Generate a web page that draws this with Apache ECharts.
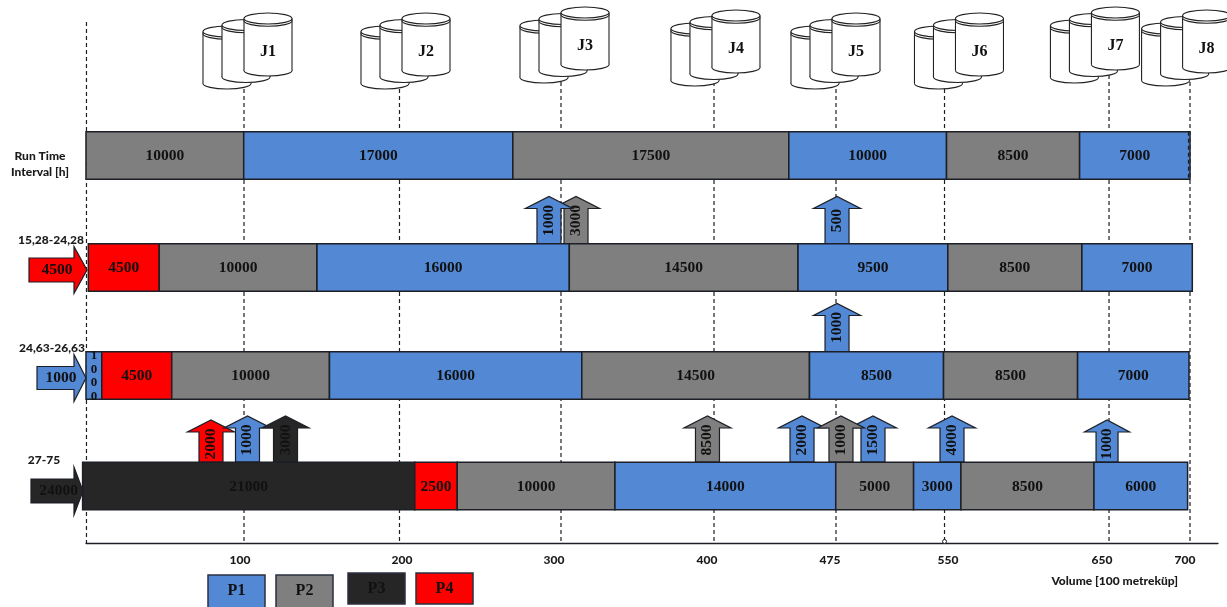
<!DOCTYPE html>
<html><head><meta charset="utf-8"><style>html,body{margin:0;padding:0;background:#fff}#c{width:1227px;height:607px}</style>
<script src="https://cdn.jsdelivr.net/npm/echarts@6/dist/echarts.min.js"></script></head>
<body><div id="c"></div>
<script>
// ---- data ----
const rowNames = ['Run Time Interval [h]', '15,28-24,28', '24,63-26,63', '27-75'];
const row1Values = [10000, 17000, 17500, 10000, 8500, 7000];
const row1Products = ['P2', 'P1', 'P2', 'P1', 'P2', 'P1'];
const row2Values = [4500, 10000, 16000, 14500, 9500, 8500, 7000];
const row2Products = ['P4', 'P2', 'P1', 'P2', 'P1', 'P2', 'P1'];
const row3Values = [1000, 4500, 10000, 16000, 14500, 8500, 8500, 7000];
const row3Products = ['P1', 'P4', 'P2', 'P1', 'P2', 'P1', 'P2', 'P1'];
const row4Values = [21000, 2500, 10000, 14000, 5000, 3000, 8500, 6000];
const row4Products = ['P3', 'P4', 'P2', 'P1', 'P2', 'P1', 'P2', 'P1'];

const inflowRows = [1, 2, 3];
const inflowValues = [4500, 1000, 24000];
const inflowProducts = ['P4', 'P1', 'P3'];

const offtakeRows = [1, 1, 1, 2, 3, 3, 3, 3, 3, 3, 3, 3, 3];
const offtakeValues = [3000, 1000, 500, 1000, 2000, 1000, 3000, 8500, 2000, 1500, 1000, 4000, 1000];
const offtakeProducts = ['P2', 'P1', 'P1', 'P1', 'P4', 'P1', 'P3', 'P2', 'P1', 'P1', 'P2', 'P1', 'P1'];
const offtakeVolumes = [31070, 29355, 47620, 47620, 7925, 10240, 12650, 39405, 45400, 49900, 47870, 54910, 64740];

const jobNames = ['J1', 'J2', 'J3', 'J4', 'J5', 'J6', 'J7', 'J8'];
const jobVolumes = [10018, 20036, 30118, 39690, 47300, 55130, 63750, 69530];
const gridVolumes = [30, 10018, 19877, 30118, 39819, 47554, 54435, 64866, 70000];

const tickLabels = ['100', '200', '300', '400', '475', '550', '650', '700'];
const tickLabelVolumes = [9765, 20036, 29674, 39375, 47174, 54656, 64420, 69680];

const productNames = ['P1', 'P2', 'P3', 'P4'];
const productColors = ['#5288d4', '#7f7f7f', '#262626', '#ff0000'];

// ---- layout (pixels, not data) ----
const W = 1227, H = 607, GL = 86, PX_PER_UNIT = 1104 / 70000;
const AX_MAX = 1132 / PX_PER_UNIT;
const rowShiftY = [-0.75, 0.75, -1.75, -1.75];
const rowStartX = [0, 2.3, 0, -3.4];
const rowSegmentNudge = [[0, 0, 1, 1, 1, 0, 0], [], [0, 0, -1, -1, -1, -2, -2, -2, -1], [0, 1, 4, 4, 4, 3, 3, 2, 1]];
const offtakeHeights = [47, 47, 47, 48, 42, 46, 46, 46, 46, 46, 46, 46, 42];
const offtakeHead = [47, 47, 47, 47, 47, 47, 47, 47, 47, 47, 47, 47, 45];
const offtakeShaft = [24, 24, 24, 24, 24, 24, 24, 24, 24, 24, 24, 24, 22];
const jobTop = [13, 13, 7, 10, 13, 13, 7, 10];
const inflowTip = [87, 86, 83];
const inflowTail = [29, 37, 31];
const inflowCy = [270, 378, 491];
const inflowShaftH = [24, 23, 24], inflowHeadH = [47, 47, 48];
const inflowTextX = [57, 61, 58.7];
const legendX = [208, 276, 348, 416], legendY = [575, 575, 573, 573], legendH = [33, 33, 31, 31];
const rowLabelX = [40, 51, 52, 44], rowLabelY = [164, 240, 348, 460];

const SERIF = '"Liberation Serif","Times New Roman",serif';
const SANS = 'Lato,"Open Sans",sans-serif';
const INK = '#1c1f26';
const colorOf = p => productColors[productNames.indexOf(p)];
const serifText = (text, x, y, size, extra) => Object.assign({
  type: 'text', x, y,
  style: { text, x: 0, y: 0, align: 'center', verticalAlign: 'middle', fontFamily: SERIF, fontWeight: 'bold', fontSize: size, fill: '#111', lineHeight: 13.5 }
}, extra || {});

// ---- table built from the arrays ----
const rows = [[row1Values, row1Products], [row2Values, row2Products], [row3Values, row3Products], [row4Values, row4Products]];
const segments = [];
rows.forEach(([vals, prods], r) => {
  let acc = 0;
  vals.forEach((v, i) => {
    segments.push([acc, r, acc + v, v, prods[i], i]);
    acc += v;
  });
});

function renderSegment(params, api) {
  const s = segments[params.dataIndex];
  const r = s[1], nudge = rowSegmentNudge[r];
  const a = api.coord([s[0], r]), b = api.coord([s[2], r]);
  const x0 = a[0] + rowStartX[r] + (nudge[s[5]] || 0);
  const x1 = b[0] + rowStartX[r] + (nudge[s[5] + 1] || 0);
  const cy = a[1] + rowShiftY[r];
  const h = 47.5;
  const kids = [{ type: 'rect', shape: { x: x0, y: cy - h / 2, width: x1 - x0, height: h },
    style: { fill: colorOf(s[4]), stroke: INK, lineWidth: 1.5 } }];
  if (s[3] === 1000) {
    kids.push(serifText('1\n0\n0\n0', (x0 + x1) / 2, cy + 0.5, 13));
  } else {
    kids.push(serifText(String(s[3]), (x0 + x1) / 2, cy + 0.5, 15.5));
  }
  if (r === 0 && s[2] === 70000) {
    kids.push({ type: 'line', shape: { x1: x1 - 1.5, y1: cy - h / 2, x2: x1 - 1.5, y2: cy + h / 2 },
      style: { stroke: INK, lineWidth: 1.2, lineDash: [4, 3] } });
  }
  return { type: 'group', children: kids };
}

function renderOfftake(params, api) {
  const i = params.dataIndex, r = offtakeRows[i];
  const p = api.coord([offtakeVolumes[i], r]);
  const cx = p[0], bottom = p[1] + rowShiftY[r] - 24;
  const h = offtakeHeights[i], hw = offtakeHead[i] / 2, sw = offtakeShaft[i] / 2, hh = 12;
  const top = bottom - h;
  return { type: 'group', children: [
    { type: 'polygon', shape: { points: [[cx - sw, bottom], [cx - sw, top + hh], [cx - hw, top + hh], [cx, top], [cx + hw, top + hh], [cx + sw, top + hh], [cx + sw, bottom]] },
      style: { fill: colorOf(offtakeProducts[i]), stroke: INK, lineWidth: 1.2 } },
    serifText(String(offtakeValues[i]), cx, top + 24, 15.5, { rotation: Math.PI / 2 })
  ] };
}

function renderGridLine(params, api) {
  const v = gridVolumes[params.dataIndex];
  const a = api.coord([v, params.dataIndex === 0 ? 22 : 40]), b = api.coord([v, 543]);
  const kids = [{ type: 'line', shape: { x1: a[0], y1: a[1], x2: b[0], y2: b[1] },
    style: { stroke: INK, lineWidth: 1.2, lineDash: [4, 3] } }];
  if (params.dataIndex === 6) {
    kids.push({ type: 'circle', shape: { cx: b[0], cy: b[1] - 1.5, r: 2 }, style: { fill: '#fff', stroke: INK, lineWidth: 1 } });
  }
  return { type: 'group', children: kids };
}

function cylinder(x, top) {
  const rx = 24, ry = 5.5, tall = 63, st = { fill: '#fff', stroke: '#222', lineWidth: 1.1 };
  const cx = x + rx;
  return [
    { type: 'ellipse', shape: { cx, cy: top + tall - ry, rx, ry }, style: st },
    { type: 'rect', shape: { x, y: top + ry, width: 2 * rx, height: tall - 2 * ry }, style: { fill: '#fff', stroke: null } },
    { type: 'line', shape: { x1: x, y1: top + ry, x2: x, y2: top + tall - ry }, style: { stroke: '#222', lineWidth: 1.1 } },
    { type: 'line', shape: { x1: x + 2 * rx, y1: top + ry, x2: x + 2 * rx, y2: top + tall - ry }, style: { stroke: '#222', lineWidth: 1.1 } },
    { type: 'ellipse', shape: { cx, cy: top + ry + 2.2, rx, ry }, style: st },
    { type: 'ellipse', shape: { cx, cy: top + ry, rx, ry }, style: st }
  ];
}
function renderJob(params, api) {
  const i = params.dataIndex;
  const x = api.coord([jobVolumes[i], 0])[0], t = jobTop[i];
  const kids = [].concat(cylinder(x - 41, t + 13), cylinder(x - 22, t + 6.5), cylinder(x, t));
  kids.push(serifText(jobNames[i], x + 24, t + 39, 16));
  return { type: 'group', children: kids };
}

function renderInflow(params, api) {
  const i = params.dataIndex;
  const tail = api.coord([(inflowTail[i] - GL) / PX_PER_UNIT, 0])[0];
  const tip = api.coord([(inflowTip[i] - GL) / PX_PER_UNIT, 0])[0];
  const neck = 74;
  const cy = inflowCy[i], sh = inflowShaftH[i] / 2, hh = inflowHeadH[i] / 2;
  return { type: 'group', children: [
    { type: 'polygon', shape: { points: [[tail, cy - sh], [neck, cy - sh], [neck, cy - hh], [tip, cy], [neck, cy + hh], [neck, cy + sh], [tail, cy + sh]] },
      style: { fill: colorOf(inflowProducts[i]), stroke: INK, lineWidth: 1.2 } },
    serifText(String(inflowValues[i]), inflowTextX[i], cy, 15.5)
  ] };
}

const graphic = [];
productNames.forEach((n, i) => {
  graphic.push({ type: 'rect', shape: { x: legendX[i], y: legendY[i], width: 57, height: legendH[i] },
    style: { fill: productColors[i], stroke: '#2a3040', lineWidth: 1.5 }, z: 20 });
  graphic.push({ type: 'text', x: legendX[i] + 28.5, y: legendY[i] + 15.5, z: 21,
    style: { text: n, align: 'center', verticalAlign: 'middle', fontFamily: SERIF, fontWeight: 'bold', fontSize: 16, fill: '#111' } });
});
rowNames.forEach((n, i) => {
  graphic.push({ type: 'text', x: rowLabelX[i], y: rowLabelY[i], z: 21,
    style: { text: i === 0 ? 'Run Time\nInterval [h]' : n, align: 'center', verticalAlign: 'middle', fontFamily: SANS, fontWeight: 900, fontSize: 12, lineHeight: 16, fill: '#1a1a1a' } });
});

const custom = (name, count, fn, overlay, z) => ({
  type: 'custom', name, coordinateSystem: 'cartesian2d', renderItem: fn, z, silent: true, clip: false,
  xAxisIndex: overlay ? 1 : 0, yAxisIndex: overlay ? 1 : 0,
  encode: { x: 0, y: 1 },
  data: count
});

const chart = echarts.init(document.getElementById('c'), null, { renderer: 'canvas' });
chart.setOption({
  animation: false,
  backgroundColor: '#fff',
  tooltip: { show: false },
  grid: [
    { left: GL, top: 101, width: 1132, height: 442 },
    { left: GL, top: 0, width: 1132, height: H }
  ],
  xAxis: [
    { type: 'value', gridIndex: 0, min: 0, max: AX_MAX, splitLine: { show: false }, axisTick: { show: false },
      axisLine: { show: true, lineStyle: { color: INK, width: 1.3 } },
      axisLabel: { customValues: tickLabelVolumes, formatter: (v, i) => tickLabels[tickLabelVolumes.indexOf(v)], margin: 11,
        fontFamily: SANS, fontWeight: 900, fontSize: 12, color: '#1a1a1a' },
      name: 'Volume [100 metreküp]', nameLocation: 'end', nameGap: -40,
      nameTextStyle: { align: 'right', verticalAlign: 'top', padding: [32, 0, 0, 0], fontFamily: SANS, fontWeight: 900, fontSize: 12, color: '#1a1a1a' } },
    { type: 'value', gridIndex: 1, min: 0, max: AX_MAX, show: false }
  ],
  yAxis: [
    { type: 'category', gridIndex: 0, inverse: true, data: rowNames, show: false },
    { type: 'value', gridIndex: 1, inverse: true, min: 0, max: H, show: false }
  ],
  graphic,
  series: [
    custom('gridlines', gridVolumes.map((v) => [v, 0]), renderGridLine, true, 1),
    custom('jobs', jobVolumes.map((v) => [v, 0]), renderJob, true, 2),
    custom('offtakes', offtakeVolumes.map((v, i) => [v, offtakeRows[i]]), renderOfftake, false, 3),
    custom('segments', segments.map(s => [s[0], s[1], s[2], s[3]]), renderSegment, false, 4),
    custom('inflows', inflowValues.map((v) => [0, 0]), renderInflow, true, 5)
  ]
});
</script></body></html>
